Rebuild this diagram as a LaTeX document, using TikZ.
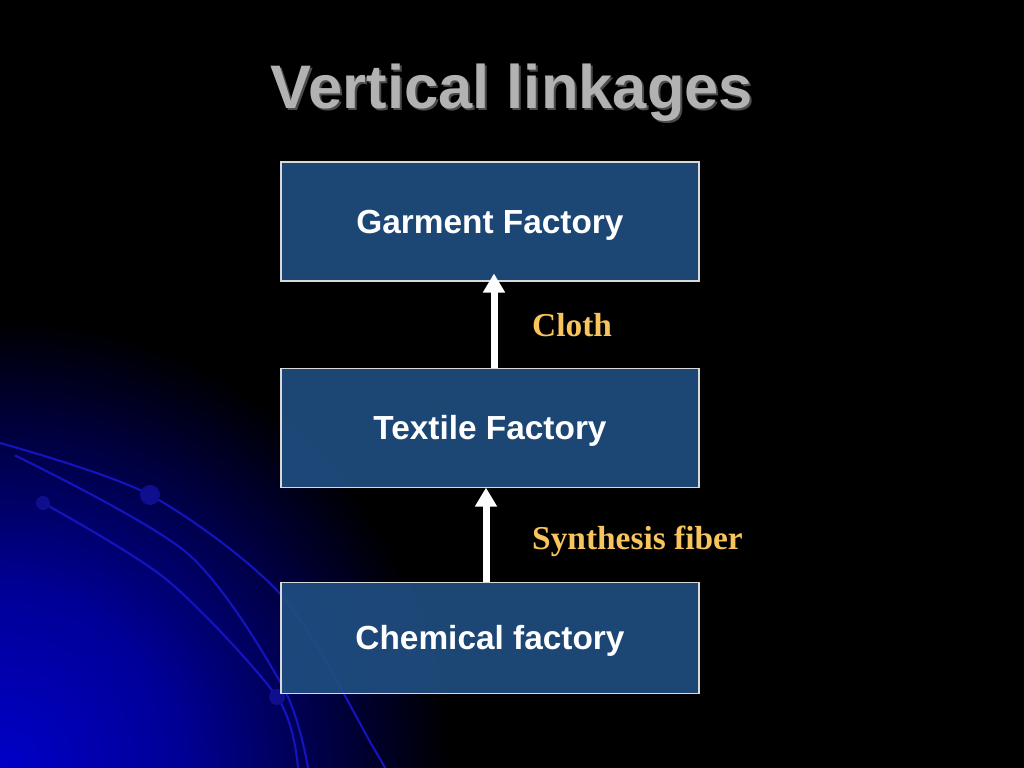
\documentclass[tikz,border=0pt]{standalone}
\usepackage{fontspec}
\setmainfont{Liberation Sans}
\newfontfamily\serifbold{Liberation Serif}
\usetikzlibrary{positioning}
\usetikzlibrary{arrows.meta}
\definecolor{boxblue}{RGB}{31,78,128}
\definecolor{labelgold}{RGB}{248,196,94}
\definecolor{titlegray}{RGB}{178,178,178}
\definecolor{glowblue}{RGB}{0,0,200}
\definecolor{arcblue}{RGB}{20,20,190}
\pgfdeclareradialshading{cornerglow}{\pgfpoint{0bp}{0bp}}{color(0bp)=(glowblue); color(10bp)=(glowblue!75!black); color(20bp)=(glowblue!25!black); color(25bp)=(black); color(50bp)=(black)}

\begin{document}
\begin{tikzpicture}[node distance=1.72cm,
	factory/.style={rectangle, draw=black!15, line width=0.6pt, fill=boxblue, fill opacity=0.92, text opacity=1, text=white, minimum width=8.36cm, minimum height=2.38cm, text depth=0pt, font=\fontsize{19}{22}\selectfont\bfseries},
	flow/.style={white, line width=0.14cm, -{Triangle[width=0.42cm,length=0.38cm]}},
	goods/.style={text=labelgold, anchor=base west, font=\serifbold\fontsize{19}{22}\selectfont\bfseries},
	orbit/.style={arcblue, line width=1.2pt},
	bead/.style={fill=arcblue!75!black}]
	% Background
	\fill[black] (0,0) rectangle (20.48,15.36);
	\begin{scope}
		\clip (0,0) rectangle (20.48,15.36);
		\shade[shading=cornerglow] (0,0) circle (9cm);
		\draw[orbit] plot[smooth] coordinates {(0,6.5) (3.0,5.46) (5.66,3.42) (7.46,0.42) (7.7,0)};
		\draw[orbit] plot[smooth] coordinates {(0.3,6.25) (3.74,4.3) (5.66,1.62) (6.16,0)};
		\draw[orbit] plot[smooth] coordinates {(0.86,5.3) (3.34,3.76) (5.54,1.42) (5.96,0)};
		\fill[bead] (3.0,5.46) circle (0.2);
		\fill[bead] (0.86,5.3) circle (0.14);
		\fill[bead] (5.54,1.42) circle (0.16);
	\end{scope}
	
	% Title
	\node[text=black!70, font=\fontsize{35}{40}\selectfont\bfseries] at (10.28,13.46) {Vertical linkages};
	\node[text=titlegray, font=\fontsize{35}{40}\selectfont\bfseries] (title) at (10.24,13.5) {Vertical linkages};
	
	% Nodes
	\node[factory] (garment) at (9.8,10.93) {Garment Factory};
	\node[factory] (textile) [below=of garment] {Textile Factory};
	\node[factory, minimum height=2.22cm] (chemical) [below=1.88cm of textile] {Chemical factory};
	
	% Arrows
	\draw[flow, shorten >=-0.16cm] ([xshift=0.08cm]textile.north) -- ([xshift=0.08cm]garment.south);
	\draw[flow] ([xshift=-0.08cm]chemical.north) -- ([xshift=-0.08cm]textile.south);
	
	% Labels
	\node[goods] (cloth) at (10.52,8.62) {Cloth};
	\node[goods] (fiber) at (10.52,4.36) {Synthesis fiber};
\end{tikzpicture}
\end{document}
